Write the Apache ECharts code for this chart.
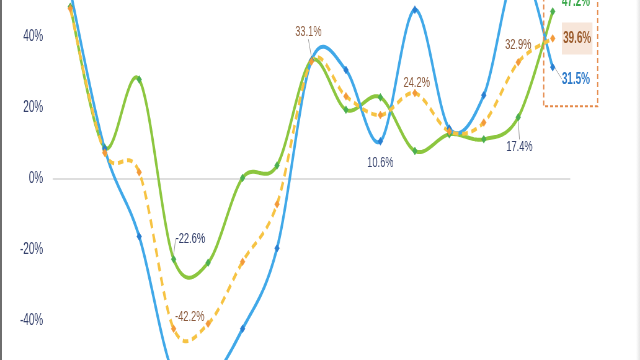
<!DOCTYPE html>
<html>
<head>
<meta charset="utf-8">
<script src="https://cdn.jsdelivr.net/npm/echarts@6/dist/echarts.min.js"></script>
<style>
html,body{margin:0;padding:0;background:#fff;}
#wrap{position:relative;width:640px;height:360px;overflow:hidden;}
#chart{position:absolute;left:0;top:-113px;width:1032px;height:584px;transform:scaleX(0.62016);transform-origin:0 0;}
#lb{position:absolute;left:0;top:0;width:2px;height:360px;background:#6e6e6e;}
#rb{position:absolute;right:0;top:0;width:4px;height:360px;background:linear-gradient(to right,#ffffff,#e6e6e6);}
</style>
</head>
<body>
<div id="wrap"><div id="chart"></div><div id="lb"></div><div id="rb"></div></div>
<script>
var categories = ['P1','P2','P3','P4','P5','P6','P7','P8','P9','P10','P11','P12','P13','P14','P15'];
var greenValues  = [48.5, 8.8, 28.0, -22.6, -23.6, 0.3, 3.8, 33.4, 19.5, 23.0, 7.9, 12.6, 11.2, 17.4, 47.2];
var blueValues   = [53.0, 8.5, -16.2, -55.0, -57.0, -42.2, -19.5, 33.4, 30.7, 10.6, 47.7, 14.2, 23.6, 60.0, 31.5];
var orangeValues = [48.0, 7.4, 1.9, -42.2, -40.8, -23.3, -7.1, 33.1, 23.3, 18.0, 24.2, 13.4, 15.9, 32.9, 39.6];
var yTicks = [-80, -60, -40, -20, 0, 20, 40, 60, 80];

// which points carry a value label
var greenLabelIdx = [3, 13, 14];
var blueLabelIdx = [9, 14];
var orangeLabelIdx = [3, 7, 10, 13, 14];

var FONT = '"Liberation Sans", Arial, sans-serif';
var NAVY = '#34406b', BROWN = '#8b5a3c';

// label styles/offsets (seriesIndex -> dataIndex -> cfg)
var labelCfg = {
  3: {3: {pos:'top', color:NAVY, dx:27, dy:-3, line:true},
      13: {pos:'bottom', color:NAVY, dx:2, dy:12, line:true},
      14: {pos:'right', color:'#3aa84a', bold:true, dx:0, dy:-10}},
  4: {9: {pos:'bottom', color:NAVY, dx:0, dy:4},
      14: {pos:'right', color:'#2a78c8', bold:true, dx:0, dy:12, line:true}},
  5: {3: {pos:'top', color:BROWN, dx:26, dy:6},
      7: {pos:'top', color:BROWN, dx:-5, dy:-12, line:true},
      10: {pos:'top', color:BROWN, dx:3, dy:8},
      13: {pos:'top', color:BROWN, dx:0, dy:0},
      14: {pos:'right', color:'#9a5a2a', bold:true, dx:0, dy:0, bg:'#f7e6da'}}
};

function buildData(values, idxs, s) {
  return values.map(function (v, i) {
    if (idxs.indexOf(i) < 0) return v;
    var c = labelCfg[s][i];
    var lab = {
      show: true, position: c.pos, distance: c.pos === 'right' ? 10.5 : 6,
      formatter: function (p) { return p.value.toFixed(1) + '%'; },
      color: c.color, fontFamily: FONT, fontSize: c.bold ? 16 : 15,
      fontWeight: c.bold ? 'bold' : 'normal'
    };
    if (c.bg) { lab.backgroundColor = c.bg; lab.padding = [8, 2]; }
    return {value: v, label: lab, labelLine: {show: !!c.line, lineStyle: {color: '#999', width: 1}}};
  });
}

// Catmull-Rom spline through pixel points, sampled into a polyline
function catmull(pts, steps) {
  var out = [], n = pts.length;
  for (var i = 0; i < n - 1; i++) {
    var p0 = pts[Math.max(i - 1, 0)], p1 = pts[i], p2 = pts[i + 1], p3 = pts[Math.min(i + 2, n - 1)];
    var c1 = [p1[0] + (p2[0] - p0[0]) / 6, p1[1] + (p2[1] - p0[1]) / 6];
    var c2 = [p2[0] - (p3[0] - p1[0]) / 6, p2[1] - (p3[1] - p1[1]) / 6];
    for (var k = (i === 0 ? 0 : 1); k <= steps; k++) {
      var t = k / steps, u = 1 - t;
      var a = u * u * u, b = 3 * u * u * t, c = 3 * u * t * t, d = t * t * t;
      out.push([a * p1[0] + b * c1[0] + c * c2[0] + d * p2[0],
                a * p1[1] + b * c1[1] + c * c2[1] + d * p2[1]]);
    }
  }
  return out;
}

function curveSeries(values, color, dashed) {
  return {
    type: 'custom', silent: true, z: dashed ? 3 : 2,
    data: [[0, 0]],
    encode: {x: 0, y: 1},
    renderItem: function (params, api) {
      var pts = values.map(function (v, i) { return api.coord([i, v]); });
      var style = {fill: null, stroke: color, lineWidth: 4, lineJoin: 'round'};
      if (dashed) { style.lineDash = [9, 6]; }
      return {type: 'polyline', shape: {points: catmull(pts, 24)}, style: style};
    }
  };
}

function markerSeries(name, values, idxs, s, markColor) {
  return {
    name: name, type: 'line',
    data: buildData(values, idxs, s),
    symbol: 'diamond', symbolSize: 8,
    itemStyle: {color: markColor, borderColor: markColor, borderWidth: 0.5},
    lineStyle: {width: 0, opacity: 0},
    label: {show: false},
    labelLine: {show: false},
    labelLayout: function (p) {
      var c = labelCfg[p.seriesIndex] && labelCfg[p.seriesIndex][p.dataIndex];
      if (!c) return {};
      return {dx: c.dx, dy: c.dy};
    },
    emphasis: {disabled: true},
    z: 5
  };
}

var chart = echarts.init(document.getElementById('chart'), null, {renderer: 'canvas'});
var option = {
  animation: false,
  grid: {left: 85.5, right: 113, top: 0, bottom: 0},
  xAxis: {
    type: 'category', data: categories, boundaryGap: true,
    axisLine: {onZero: true, lineStyle: {color: '#d4d4d4', width: 1.5}},
    axisTick: {show: false}, axisLabel: {show: false}, splitLine: {show: false}
  },
  yAxis: {
    type: 'value', min: yTicks[0], max: yTicks[yTicks.length - 1], interval: 20,
    axisLine: {show: false}, axisTick: {show: false}, splitLine: {show: false},
    axisLabel: {formatter: '{value}%', color: NAVY, fontFamily: FONT, fontSize: 16, margin: 16}
  },
  series: [
    curveSeries(greenValues, '#8cc63f', false),
    curveSeries(blueValues, '#40a8e8', false),
    curveSeries(orangeValues, '#f6c343', true),
    markerSeries('Green', greenValues, greenLabelIdx, 3, '#4caf50'),
    markerSeries('Blue', blueValues, blueLabelIdx, 4, '#2a7fd0'),
    markerSeries('Orange', orangeValues, orangeLabelIdx, 5, '#f39a3a')
  ]
};
chart.setOption(option);

// dashed annotation box around the last category's values
var last = categories.length - 1;
var pTop = chart.convertToPixel({gridIndex: 0}, [last, orangeValues[last]]);
var pBot = chart.convertToPixel({gridIndex: 0}, [last, 20.5]);
chart.setOption({
  graphic: [{
    type: 'rect', silent: true, z: 10,
    shape: {x: pTop[0] - 14.5, y: 90, width: 87, height: pBot[1] - 90},
    style: {fill: 'none', stroke: '#e58a4a', lineWidth: 2, lineDash: [5, 3]}
  }]
});
</script>
</body>
</html>
